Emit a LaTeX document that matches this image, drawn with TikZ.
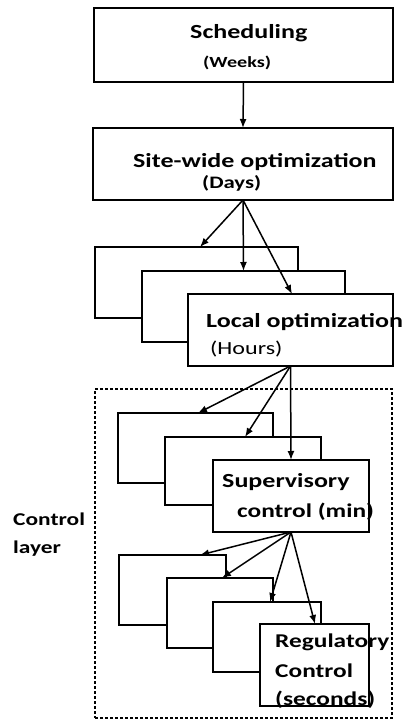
\documentclass[tikz,border=0pt]{standalone}
\usepackage{fontspec}
\setmainfont{Carlito}[FakeStretch=1.3]
\usetikzlibrary{arrows.meta}
\tikzset{
  box/.style={draw=black, fill=white, line width=1.6pt, inner sep=0pt, outer sep=0pt},
  thickbox/.style={box, line width=2.2pt},
  ctlbox/.style={draw=black, line width=1.5pt, dash pattern=on 3pt off 2pt, inner sep=0pt},
  lbl/.style={anchor=base west, inner sep=0pt, text=black},
  arr/.style={-{Latex[length=9pt,width=7pt]}, line width=1.5pt},
}
\begin{document}
\begin{tikzpicture}[x=1pt,y=-1pt]
\useasboundingbox (0,0) rectangle (406,720);
% control layer
\node[ctlbox, minimum width=297pt, minimum height=329pt] (ctl) at (243.5,553.5) {};
% top boxes
\node[thickbox, minimum width=299pt, minimum height=74pt] (sched) at (243.5,45) {};
\node[box, minimum width=300pt, minimum height=72pt] (site) at (243,164) {};
% local optimization stack
\node[box, minimum width=203pt, minimum height=71pt] (loc1) at (196.5,282.5) {};
\node[box, minimum width=203pt, minimum height=71pt] (loc2) at (243.5,306.5) {};
\node[box, minimum width=205pt, minimum height=72pt] (loc3) at (290.5,330) {};
% supervisory stack
\node[box, minimum width=155pt, minimum height=70pt] (sup1) at (195.5,448) {};
\node[box, minimum width=156pt, minimum height=68pt] (sup2) at (243,471) {};
\node[box, minimum width=156pt, minimum height=72pt] (sup3) at (291,496) {};
% regulatory stack
\node[box, minimum width=107pt, minimum height=70pt] (reg1) at (172.5,590) {};
\node[box, minimum width=106pt, minimum height=70pt] (reg2) at (220,613) {};
\node[box, minimum width=108pt, minimum height=70pt] (reg3) at (267,637) {};
\node[box, minimum width=109pt, minimum height=82pt] (reg4) at (314.5,665) {};
% texts
\node[lbl, font=\bfseries\fontsize{20}{24}\selectfont] (tsched) at (190,38) {Scheduling};
\node[lbl, font=\bfseries\fontsize{15.5}{18}\selectfont] (tweeks) at (203,67) {(Weeks)};
\node[lbl, font=\bfseries\fontsize{20}{24}\selectfont] (tsite) at (133,167) {Site-wide optimization};
\node[lbl, font=\bfseries\fontsize{17.5}{21}\selectfont] (tdays) at (202,188) {(Days)};
\node[lbl, font=\bfseries\fontsize{20}{24}\selectfont] (tloc) at (206,327) {Local optimization};
\node[lbl, font=\fontsize{18.5}{22}\selectfont] (thours) at (210,354) {(Hours)};
\node[lbl, font=\bfseries\fontsize{20}{24}\selectfont] (tsup1) at (222,487) {Supervisory};
\node[lbl, font=\bfseries\fontsize{19.5}{24}\selectfont] (tsup2) at (237,517) {control (min)};
\node[lbl, font=\bfseries\fontsize{18}{22}\selectfont] (tctl1) at (13,525) {Control};
\node[lbl, font=\bfseries\fontsize{18}{22}\selectfont] (tctl2) at (13,553) {layer};
\node[lbl, font=\bfseries\fontsize{19.5}{24}\selectfont] (treg1) at (275,647) {Regulatory};
\node[lbl, font=\bfseries\fontsize{19.5}{24}\selectfont] (treg2) at (275,677) {Control};
\node[lbl, font=\bfseries\fontsize{19.5}{24}\selectfont] (treg3) at (275,705) {(seconds)};
% arrows
\draw[arr] (sched.south) -- (site.north);
\draw[arr] (site.south) -- ([xshift=105pt]loc1.north west);
\draw[arr] (site.south) -- (loc2.north);
\draw[arr] (site.south) -- ([xshift=104pt]loc3.north west);
\draw[arr] (loc3.south) -- ([xshift=80pt]sup1.north west);
\draw[arr] (loc3.south) -- ([xshift=80pt]sup2.north west);
\draw[arr] (loc3.south) -- (sup3.north);
\draw[arr] (sup3.south) -- ([xshift=81pt]reg1.north west);
\draw[arr] (sup3.south) -- ([xshift=55pt]reg2.north west);
\draw[arr] (sup3.south) -- ([xshift=57pt]reg3.north west);
\draw[arr] (sup3.south) -- ([xshift=55pt]reg4.north west);
\end{tikzpicture}
\end{document}
